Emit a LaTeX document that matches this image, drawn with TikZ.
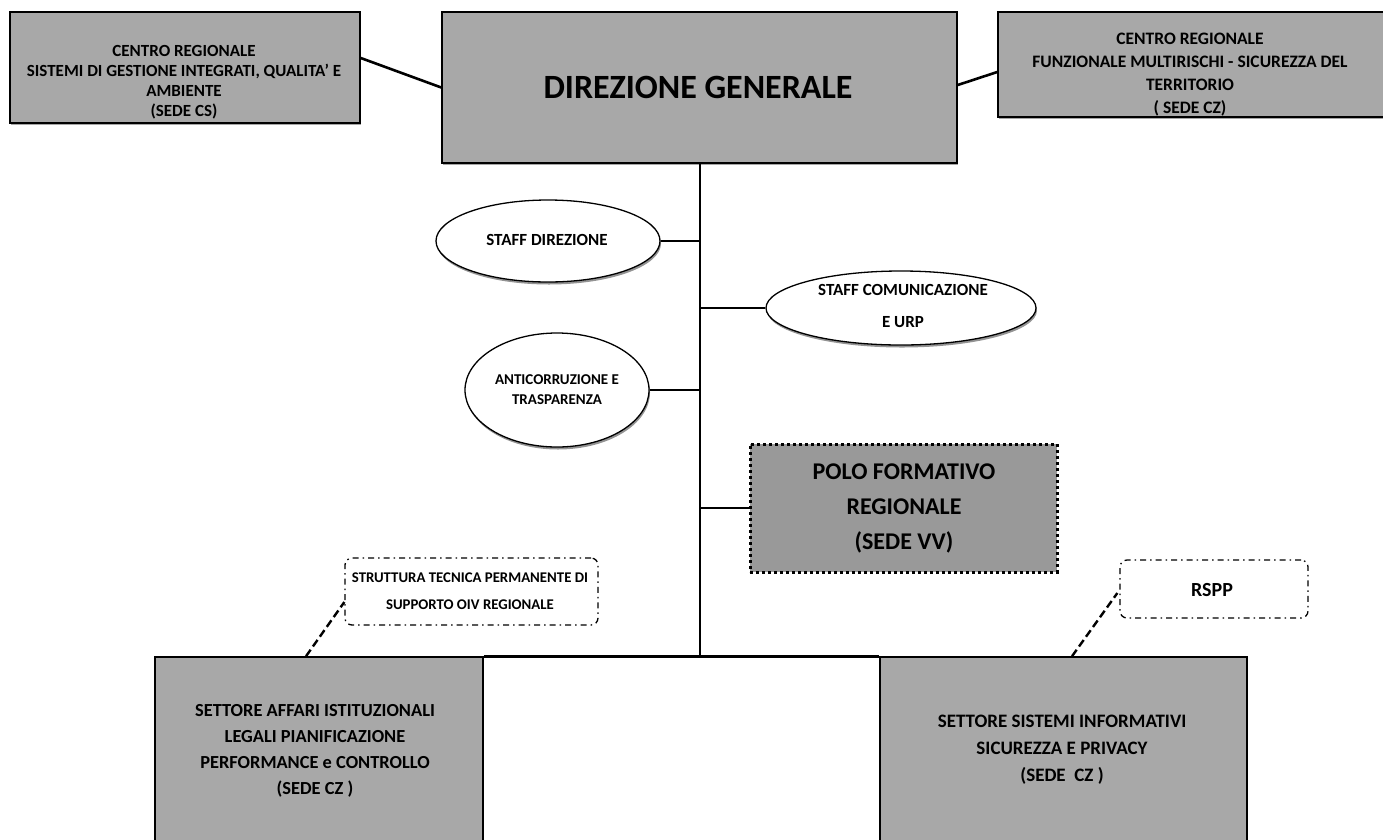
\documentclass[tikz,border=0pt]{standalone}
\usepackage{fontspec}
\setmainfont{Carlito}
\usetikzlibrary{shapes.geometric,shadows}
\begin{document}
\begin{tikzpicture}[x=1pt,y=-1pt,
  graybox/.style={draw=black,line width=1.5pt,fill=black!34,inner sep=0pt,drop shadow={opacity=0.7,shadow xshift=1pt,shadow yshift=-2pt}},
  oval/.style={draw=black,line width=1.3pt,fill=white,ellipse,inner sep=0pt,drop shadow={opacity=0.85,shadow xshift=1pt,shadow yshift=-2.5pt}},
  dotbox/.style={draw=black,fill=black!40,line width=3pt,dash pattern=on 3pt off 3pt,inner sep=0pt},
  dashdot/.style={draw=black,line width=1.3pt,rounded corners=7pt,dash pattern=on 6pt off 4pt on 1.5pt off 4pt,inner sep=0pt},
  txt/.style={align=center,inner sep=0pt,font=\bfseries\fontsize{17}{20}\selectfont},
  conn/.style={draw=black,line width=2.6pt},
  dconn/.style={draw=black,line width=2.4pt,dash pattern=on 8pt off 4pt}]
\useasboundingbox (0,0) rectangle (1383,839);
% boxes
\node[graybox,minimum width=350pt,minimum height=111pt] (L) at (185,67.5) {};
\node[graybox,minimum width=515pt,minimum height=151pt] (DG) at (699.5,87.5) {};
\node[graybox,minimum width=397pt,minimum height=105pt] (R) at (1196.5,64.5) {};
\node[oval,minimum width=224pt,minimum height=82pt] (SD) at (548,241) {};
\node[oval,minimum width=270pt,minimum height=74pt] (SC) at (901,308) {};
\node[oval,minimum width=184pt,minimum height=114pt] (AC) at (557,390) {};
\node[dotbox,minimum width=307pt,minimum height=128pt] (PF) at (903.5,508) {};
\node[dashdot,minimum width=253pt,minimum height=67pt] (ST) at (471.5,591.5) {};
\node[dashdot,minimum width=188pt,minimum height=58pt] (RS) at (1214,589) {};
\node[graybox,minimum width=328pt,minimum height=193pt] (BL) at (319,753.5) {};
\node[graybox,minimum width=367pt,minimum height=193pt] (BR) at (1063.5,753.5) {};
\coordinate (j) at (700,657);
% texts
\node[txt] (Lt) at (184,82) {CENTRO REGIONALE\\SISTEMI DI GESTIONE INTEGRATI, QUALITA' E\\AMBIENTE\\(SEDE CS)};
\node[txt,font=\bfseries\fontsize{34}{40}\selectfont] (DGt) at (698,87) {DIREZIONE GENERALE};
\node[txt,font=\bfseries\fontsize{17.5}{23}\selectfont] (Rt) at (1190,75) {CENTRO REGIONALE\\FUNZIONALE MULTIRISCHI - SICUREZZA DEL\\TERRITORIO\\( SEDE CZ)};
\node[txt] (SDt) at (547,240) {STAFF DIREZIONE};
\node[txt,font=\bfseries\fontsize{17}{32}\selectfont] (SCt) at (903,306) {STAFF COMUNICAZIONE\\E URP};
\node[txt,font=\bfseries\fontsize{15}{20}\selectfont] (ACt) at (557,390) {ANTICORRUZIONE E\\TRASPARENZA};
\node[txt,font=\bfseries\fontsize{24}{35}\selectfont] (PFt) at (904,508) {POLO FORMATIVO\\REGIONALE\\(SEDE VV)};
\node[txt,font=\bfseries\fontsize{14.8}{27}\selectfont] (STt) at (470,591.5) {STRUTTURA TECNICA PERMANENTE DI\\SUPPORTO OIV REGIONALE};
\node[txt,font=\bfseries\fontsize{20}{20}\selectfont] (RSt) at (1212,590) {RSPP};
\node[txt,font=\bfseries\fontsize{18.4}{26}\selectfont] (BLt) at (315,751) {SETTORE AFFARI ISTITUZIONALI\\LEGALI PIANIFICAZIONE\\PERFORMANCE e CONTROLLO\\(SEDE CZ )};
\node[txt,font=\bfseries\fontsize{19}{27}\selectfont] (BRt) at (1062,750) {SETTORE SISTEMI INFORMATIVI\\SICUREZZA E PRIVACY\\(SEDE\ \ CZ )};
% connectors
\draw[conn] ([yshift=9.5pt]L.east) -- (DG.west);
\draw[conn] ([yshift=2.5pt]DG.east) -- ([yshift=-7.5pt]R.west);
\draw[conn] (DG.south -| j) -- (j);
\draw[conn] (SD.east) -- (SD.east -| j);
\draw[conn] (SC.west) -- (SC.west -| j);
\draw[conn] (AC.east) -- (AC.east -| j);
\draw[conn] (PF.west) -- (PF.west -| j);
\draw[conn] (BL.north east) -- (BR.north west);
\draw[dconn] ([xshift=-13pt]BL.north) -- ([yshift=-10.5pt]ST.west);
\draw[dconn] ([xshift=8.5pt]BR.north) -- ([yshift=-4pt,xshift=-2pt]RS.west);
\end{tikzpicture}
\end{document}
